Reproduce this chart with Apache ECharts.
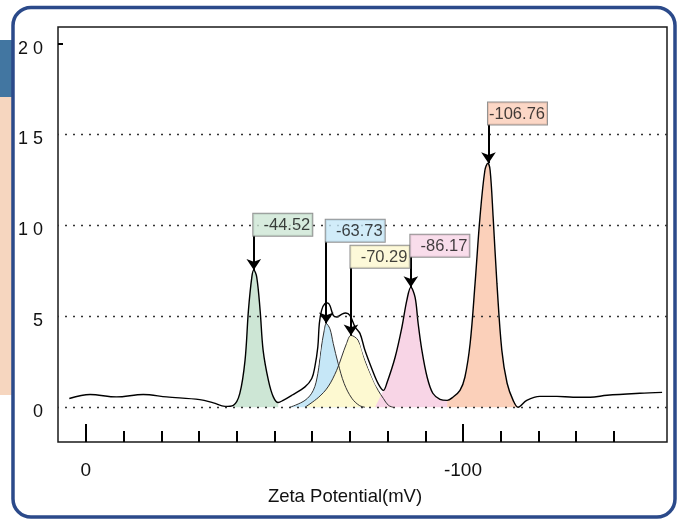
<!DOCTYPE html>
<html><head><meta charset="utf-8">
<script src="https://cdn.jsdelivr.net/npm/echarts@6/dist/echarts.min.js"></script>
<style>html,body{margin:0;padding:0;background:#fff}#c{width:678px;height:520px}</style>
</head><body><div id="c"></div>
<script>
// ---- data (mV, intensity) ----
const xTicksMinor = [0,-10,-20,-30,-40,-50,-60,-70,-80,-90,-100,-110,-120,-130,-140];
const xTicksMajor = [0,-100];
const yTickLabels = [0,5,10,15,20];
const gridLevels = [0,5,10,15];

const baselineLeft = [[4.4,0.48],[-1.1,0.70],[-8.1,0.57],[-15.2,0.70],[-21.4,0.57],[-30.2,0.42],[-33.8,0.24],[-36.9,0.05],[-39.1,0.11]];
const greenPeak = [[-39.1,0.11],[-40.8,0.75],[-42.2,2.58],[-43.1,5.33],[-44.0,7.16],[-44.52,7.55],[-45.3,7.16],[-46.2,5.33],[-47.0,3.13],[-48.4,1.48],[-49.7,0.57],[-51.0,0.26]];
const envelope = [[-51.0,0.26],[-52.3,0.38],[-54.6,0.66],[-58.1,1.12],[-59.9,1.58],[-60.7,2.21],[-61.5,3.31],[-61.9,4.60],[-62.5,5.33],[-63.4,5.70],[-64.1,5.73],[-64.7,5.60],[-65.6,5.05],[-66.5,4.96],[-67.8,5.11],[-68.9,5.18],[-70.0,5.05],[-71.4,4.41],[-72.7,4.05],[-74.0,3.13],[-75.8,2.13],[-77.5,1.30],[-78.9,0.93]];
const bluePeak = [[-54.1,0.0],[-58.1,0.38],[-60.3,0.93],[-61.5,1.85],[-62.3,3.13],[-63.2,4.23],[-63.73,4.6],[-64.7,4.32],[-65.6,3.50],[-66.9,2.40],[-68.5,1.30],[-70.5,0.50],[-72.5,0.10],[-74.0,0.0]];
const yellowPeak = [[-58.1,0.0],[-61.6,0.53],[-64.2,1.12],[-66.5,2.03],[-67.8,2.76],[-69.1,3.50],[-70.29,3.95],[-72.2,3.68],[-74.0,2.58],[-75.8,1.67],[-77.5,0.93],[-78.9,0.48],[-80.2,0.11],[-81.5,0.0]];
const pinkPeak = [[-78.9,0.93],[-79.8,1.32],[-82.0,2.75],[-83.8,4.40],[-85.1,5.88],[-86.17,6.6],[-87.3,6.04],[-88.1,4.62],[-89.1,3.13],[-90.5,1.65],[-92.0,0.77],[-93.9,0.44],[-95.8,0.38]];
const pinkBase = [[-76.7,0.0]];
const orangePeak = [[-95.8,0.38],[-97.3,0.55],[-99.2,0.93],[-100.5,1.65],[-101.9,3.52],[-103.2,6.81],[-104.5,10.44],[-105.8,13.02],[-106.6,13.42],[-107.2,13.02],[-108.0,10.44],[-109.0,6.81],[-110.3,3.13],[-111.7,1.32],[-113.3,0.38],[-114.6,0.0]];
const baselineRight = [[-114.6,0.0],[-116.9,0.38],[-120.4,0.60],[-124.9,0.60],[-129.2,0.55],[-133.7,0.55],[-138.2,0.66],[-146.9,0.77],[-152.8,0.82]];

const labelTexts = ['-44.52','-63.73','-70.29','-86.17','-106.76'];
const peakPositions = [-44.52,-63.73,-70.29,-86.17,-106.76];
const peakHeights = [7.55,4.6,3.95,6.6,13.42];
const labelHeights = [9.46,9.13,7.70,8.31,15.57];

// ---- styles ----
const FONT = '"Liberation Sans Narrow","Arial Narrow","Liberation Sans",Arial,sans-serif';
const labelColors = ['#cde6d5','#c6e7f7','#fdf8cf','#f8d4e6','#fbcdb8'];
const fillGreen = '#cde6d5', fillBlue = '#c6e7f7', fillYellow = '#fdf9d1', fillPink = '#f8d5e6', fillOrange = '#fbd0ba';

const mainCurve = baselineLeft
  .concat(greenPeak.slice(1))
  .concat(envelope.slice(1))
  .concat(pinkPeak.slice(1))
  .concat(orangePeak.slice(1))
  .concat(baselineRight.slice(1));

function fill(data, color, outline, z) {
  return {
    type: 'line', data: data, smooth: 0.35, symbol: 'none', z: z,
    lineStyle: outline ? { color: '#333', width: 1 } : { width: 0, opacity: 0 },
    areaStyle: { color: color, opacity: 1 },
    silent: true
  };
}

const chart = echarts.init(document.getElementById('c'), null, { renderer: 'canvas' });
const axisCommon = { type: 'value', inverse: true, min: -154.1, max: 7.4, gridIndex: 0, position: 'bottom',
  axisLine: { show: false, onZero: false }, splitLine: { show: false } };

chart.setOption({
  animation: false,
  backgroundColor: '#fff',
  graphic: [
    { type: 'rect', z: -10, shape: { x: 0, y: 40, width: 14, height: 57 }, style: { fill: '#4276a1' } },
    { type: 'rect', z: -10, shape: { x: 0, y: 97, width: 14, height: 298 }, style: { fill: '#f6d6bf' } },
    { type: 'rect', z: -9, shape: { x: 13, y: 7.5, width: 662, height: 509.5, r: 18 },
      style: { fill: '#fff', stroke: '#2b4a8a', lineWidth: 3.5 } }
  ],
  grid: { left: 58, top: 27, width: 609, height: 415, show: true, borderColor: '#1a1a1a', borderWidth: 1.5,
    backgroundColor: 'rgba(0,0,0,0)' },
  xAxis: [
    Object.assign({}, axisCommon, {
      axisTick: { show: true, inside: true, length: 11, customValues: xTicksMinor, lineStyle: { color: '#000', width: 2 } },
      axisLabel: { show: false }
    }),
    Object.assign({}, axisCommon, {
      axisTick: { show: true, inside: true, length: 18, customValues: xTicksMajor, lineStyle: { color: '#000', width: 2 } },
      axisLabel: { show: true, customValues: xTicksMajor, margin: 19, color: '#111', fontFamily: FONT, fontSize: 19 },
      name: 'Zeta Potential(mV)', nameLocation: 'middle', nameGap: 45,
      nameTextStyle: { color: '#111', fontFamily: FONT, fontSize: 18.5, padding: [0, 35, 0, 0] }
    })
  ],
  yAxis: {
    type: 'value', min: -1.91, max: 20.91,
    axisLine: { show: false, onZero: false }, splitLine: { show: false },
    axisTick: { show: true, inside: true, length: 5, customValues: [20], lineStyle: { color: '#000', width: 2 } },
    axisLabel: { show: true, customValues: yTickLabels, margin: 15, color: '#111', fontFamily: FONT, fontSize: 18,
      verticalAlign: 'top', lineHeight: 10, formatter: v => String(v).split('').join(' ') }
  },
  series: [
    { type: 'line', data: [], z: 1, silent: true,
      markLine: { silent: true, symbol: 'none', label: { show: false }, animation: false,
        lineStyle: { color: '#333', width: 1.4, type: [2, 6] },
        data: gridLevels.map(v => ({ yAxis: v })) } },
    fill(greenPeak, fillGreen, false, 2),
    fill(bluePeak, fillBlue, true, 2),
    fill(yellowPeak, fillYellow, true, 2),
    fill(pinkBase.concat(pinkPeak), fillPink, false, 2),
    fill(orangePeak, fillOrange, false, 2),
    { type: 'line', data: envelope, smooth: 0.35, symbol: 'none', z: 3, silent: true,
      lineStyle: { color: '#fff', width: 6 } },
    { type: 'line', data: mainCurve, smooth: 0.35, symbol: 'none', z: 4, silent: true,
      lineStyle: { color: '#000', width: 1.4 } },
    { type: 'scatter', z: 6, symbolSize: 1, itemStyle: { color: 'rgba(0,0,0,0)' }, silent: true,
      data: peakPositions.map((x, i) => ({ value: [x, labelHeights[i]], label: { backgroundColor: labelColors[i] } })),
      label: { show: true, position: [59, 1], align: 'right', verticalAlign: 'bottom',
        formatter: p => labelTexts[p.dataIndex], fontFamily: FONT, fontSize: 16.5, color: '#111',
        width: 56, lineHeight: 21, padding: [1, 2, 0, 1], borderColor: '#777', borderWidth: 1 },
      markLine: { silent: true, animation: false, symbol: ['none', 'arrow'], symbolSize: 11,
        label: { show: false }, lineStyle: { color: '#000', width: 2, type: 'solid' },
        data: peakPositions.map((x, i) => [{ coord: [x, labelHeights[i]] }, { coord: [x, peakHeights[i]] }]) } }
  ]
});
</script></body></html>
